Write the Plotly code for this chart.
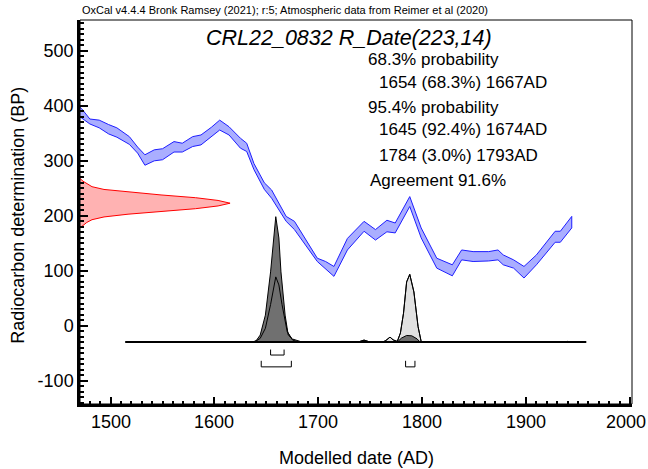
import plotly.graph_objects as go

# ---------------- data ----------------
# Calibration curve band (IntCal20 atmospheric), cal AD vs BP
cal_years = [1470, 1472, 1480, 1489, 1498, 1506, 1518, 1526, 1533, 1542, 1550, 1561, 1569,
             1579, 1587, 1597, 1605, 1614, 1625, 1631, 1638, 1648, 1655, 1669, 1677, 1699,
             1707, 1715, 1728, 1744, 1755, 1766, 1774, 1788, 1799, 1814, 1829, 1838, 1849,
             1864, 1873, 1878, 1888, 1898, 1910, 1928, 1933, 1944]
cal_upper = [398, 395, 376, 374, 366, 360, 344, 325, 311, 320, 322, 335, 332,
             344, 347, 361, 374, 362, 341, 332, 295, 260, 247, 199, 190, 123,
             117, 108, 159, 190, 175, 192, 187, 235, 178, 123, 111, 138, 135,
             135, 138, 129, 120, 108, 129, 172, 172, 199]
cal_lower = [380, 378, 367, 360, 349, 343, 330, 314, 292, 300, 302, 316, 316,
             326, 329, 344, 356, 347, 323, 317, 284, 248, 232, 190, 175, 117,
             103, 90, 138, 172, 156, 171, 169, 217, 160, 105, 91, 120, 117,
             118, 120, 111, 105, 87, 111, 152, 152, 178]

# Radiocarbon measurement 223 +/- 14 BP (relative density along BP axis)
r_bp = [178, 183, 188, 193, 198, 203, 208, 213, 218, 223, 228, 233, 238, 243, 248, 253, 258, 263, 268]
r_dens = [0.0, 0.02, 0.045, 0.08, 0.16, 0.32, 0.54, 0.77, 0.92, 1.0, 0.92, 0.77, 0.54, 0.32, 0.16, 0.08, 0.045, 0.02, 0.0]

# Unmodelled (likelihood) calibrated distribution
lik_years = [1636, 1640, 1644, 1649, 1654, 1659, 1662, 1665, 1670, 1675, 1680, 1738, 1744, 1750,
             1762, 1765, 1769, 1772, 1776, 1779, 1782, 1785, 1788, 1792, 1796, 1799, 1802]
lik_prob = [0, 0.008, 0.03, 0.11, 0.30, 0.52, 0.456, 0.30, 0.084, 0.018, 0, 0, 0.016, 0,
            0, 0.013, 0.04, 0.018, 0.005, 0.072, 0.23, 0.48, 0.54, 0.40, 0.124, 0.005, 0]

# Modelled (posterior) distribution
post_years = [1636, 1640, 1644, 1649, 1654, 1657, 1659, 1662, 1664, 1668, 1671, 1675, 1678, 1683,
              1688, 1740, 1744, 1748, 1776, 1780, 1785, 1790, 1795, 1798, 1936, 1940, 1944]
post_prob = [0, 0.01, 0.056, 0.215, 0.56, 0.83, 1.0, 0.83, 0.56, 0.215, 0.056, 0.025, 0.016, 0.004,
             0, 0, 0.012, 0, 0, 0.032, 0.053, 0.05, 0.026, 0, 0, 0.006, 0]

plot_span = [1514, 1958]
range_68 = [(1654, 1667)]
range_95 = [(1645, 1674), (1784, 1793)]

x_ticks = [1500, 1600, 1700, 1800, 1900, 2000]
x_tick_labels = ["1500", "1600", "1700", "1800", "1900", "2000"]
y_ticks = [-100, 0, 100, 200, 300, 400, 500]
y_tick_labels = ["-100", "0", "100", "200", "300", "400", "500"]

caption = "OxCal v4.4.4 Bronk Ramsey (2021); r:5; Atmospheric data from Reimer et al (2020)"
title = "CRL22_0832 R_Date(223,14)"
x_title = "Modelled date (AD)"
y_title = "Radiocarbon determination (BP)"
info_lines = [
    ("68.3% probability", 0),
    ("1654 (68.3%) 1667AD", 1),
    ("95.4% probability", 0),
    ("1645 (92.4%) 1674AD", 1),
    ("1784 (3.0%) 1793AD", 1),
    ("Agreement 91.6%", 0),
]

# ---------------- figure ----------------
XR = [1470.5, 2002]
YR = [-142, 556]
FONT = "Liberation Sans, Arial, Helvetica, sans-serif"

base = -29.5        # baseline of the date distributions (BP units)
dist_scale = 228    # height of posterior peak in BP units
r_scale = 144.5     # width of radiocarbon peak in years

fig = go.Figure()

# calibration band
fig.add_trace(go.Scatter(
    x=cal_years + cal_years[::-1],
    y=cal_upper + cal_lower[::-1],
    fill="toself", fillcolor="rgb(170,174,255)",
    line=dict(color="rgb(30,30,255)", width=1),
    mode="lines", hoverinfo="skip", showlegend=False))

# radiocarbon date on y axis
fig.add_trace(go.Scatter(
    x=[XR[0] + r_scale * d for d in r_dens],
    y=r_bp,
    fill="toself", fillcolor="rgb(255,178,178)",
    line=dict(color="rgb(255,0,0)", width=1),
    mode="lines", hoverinfo="skip", showlegend=False))

# likelihood (light grey)
fig.add_trace(go.Scatter(
    x=lik_years, y=[base + dist_scale * p for p in lik_prob],
    fill="toself", fillcolor="rgb(225,225,225)",
    line=dict(color="black", width=1),
    mode="lines", hoverinfo="skip", showlegend=False))

# posterior (dark grey)
fig.add_trace(go.Scatter(
    x=post_years, y=[base + dist_scale * p for p in post_prob],
    fill="toself", fillcolor="rgb(112,112,112)",
    line=dict(color="black", width=1),
    mode="lines", hoverinfo="skip", showlegend=False))

# likelihood outline on top
fig.add_trace(go.Scatter(
    x=lik_years, y=[base + dist_scale * p for p in lik_prob],
    line=dict(color="black", width=1),
    mode="lines", hoverinfo="skip", showlegend=False))

# baseline
fig.add_trace(go.Scatter(
    x=plot_span, y=[base, base],
    line=dict(color="black", width=2),
    mode="lines", hoverinfo="skip", showlegend=False))

# range brackets
def brackets(ranges, top, bot):
    xs, ys = [], []
    for a, b in ranges:
        xs += [a, a, b, b, None]
        ys += [top, bot, bot, top, None]
    return xs, ys

bx, by = brackets(range_68, base - 13.5, base - 23.5)
fig.add_trace(go.Scatter(x=bx, y=by, mode="lines",
                         line=dict(color="black", width=1),
                         hoverinfo="skip", showlegend=False))
bx, by = brackets(range_95, base - 34, base - 45)
fig.add_trace(go.Scatter(x=bx, y=by, mode="lines",
                         line=dict(color="black", width=1),
                         hoverinfo="skip", showlegend=False))

# annotations
ann = []
ann.append(dict(text=caption, xref="paper", yref="paper", x=0, y=1.027,
                xanchor="left", yanchor="middle", showarrow=False,
                font=dict(family=FONT, size=11, color="black")))
ann.append(dict(text="<i>" + title + "</i>", xref="paper", yref="paper", x=0.488, y=0.953,
                xanchor="center", yanchor="middle", showarrow=False,
                font=dict(family=FONT, size=21.5, color="black")))
ys = [0.898, 0.836, 0.773, 0.714, 0.648, 0.581]
for (txt, ind), yy in zip(info_lines, ys):
    ann.append(dict(text=txt, xref="paper", yref="paper",
                    x=0.518 + 0.02 * ind + (0.004 if txt.startswith("Agree") else 0), y=yy,
                    xanchor="left", yanchor="middle", showarrow=False,
                    font=dict(family=FONT, size=17, color="black")))
ann.append(dict(text=x_title, xref="paper", yref="paper", x=0.5, y=-0.1406,
                xanchor="center", yanchor="middle", showarrow=False,
                font=dict(family=FONT, size=18, color="black")))
ann.append(dict(text=y_title, xref="paper", yref="paper", x=-0.1123, y=0.49,
                xanchor="center", yanchor="middle", showarrow=False, textangle=-90,
                font=dict(family=FONT, size=18, color="black")))
# x tick labels placed at the axis positions (last one nudged so it stays on the page)
for i, (tv, tl) in enumerate(zip(x_ticks, x_tick_labels)):
    ann.append(dict(text=tl, xref="x", yref="paper", x=tv, y=-0.0465,
                    xanchor="center", yanchor="middle",
                    xshift=(-4 if i == len(x_ticks) - 1 else 0), showarrow=False,
                    font=dict(family=FONT, size=18, color="black")))

fig.update_layout(
    width=648, height=469,
    margin=dict(l=80, r=16, t=20, b=65, autoexpand=False),
    paper_bgcolor="white", plot_bgcolor="white",
    font=dict(family=FONT, size=18, color="black"),
    annotations=ann,
    shapes=[dict(type="rect", xref="paper", yref="paper", x0=0, x1=1, y0=0, y1=1,
                 line=dict(color="black", width=1), layer="above")],
    xaxis=dict(range=XR, showgrid=False, zeroline=False, automargin=False,
               tickmode="array", tickvals=x_ticks, showticklabels=False,
               ticks="inside", ticklen=7, tickwidth=2, tickcolor="black",
               showline=True, linewidth=2.5, linecolor="black", mirror=False,
               minor=dict(dtick=10, tick0=0, ticks="inside", ticklen=3.5,
                          tickwidth=1.5, tickcolor="black", showgrid=False)),
    yaxis=dict(range=YR, showgrid=False, zeroline=False, automargin=False,
               tickmode="array", tickvals=y_ticks, ticktext=y_tick_labels,
               ticks="inside", ticklen=8, tickwidth=2, tickcolor="black",
               showline=True, linewidth=2.5, linecolor="black", mirror=False,
               ticklabeloverflow="allow",
               minor=dict(dtick=10, tick0=0, ticks="inside", ticklen=4,
                          tickwidth=1.5, tickcolor="black", showgrid=False),
               tickfont=dict(size=18)),
)

fig.write_html("out.html", config={"displayModeBar": False},
               post_script="document.body.style.margin='0';document.body.style.overflow='hidden';")
